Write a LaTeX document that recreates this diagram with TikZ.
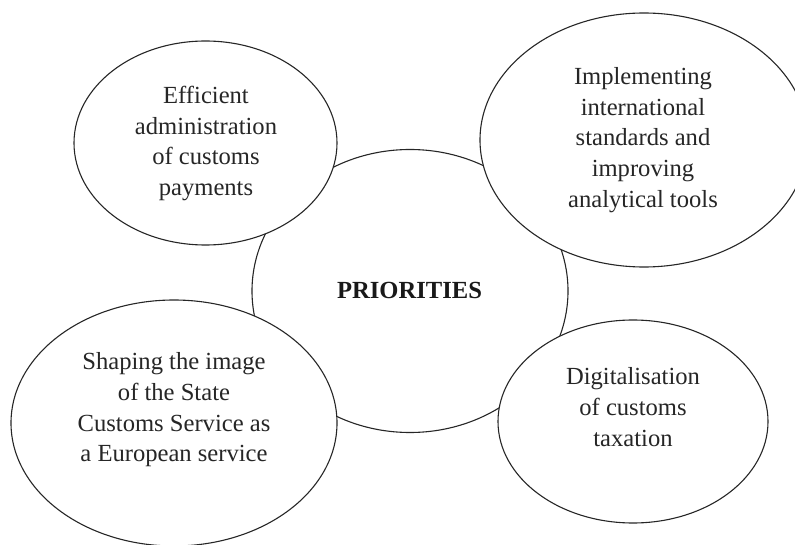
\documentclass[tikz,border=0pt]{standalone}
\usepackage{fontspec}
\setmainfont{Liberation Serif}
\usetikzlibrary{shapes.geometric}
\begin{document}
\begin{tikzpicture}[x=1pt,y=-1pt,
  oval/.style={draw=black!85,line width=1.1pt,ellipse,inner sep=0pt,fill=white},
  lbl/.style={align=center,font=\fontsize{24.6pt}{30.7pt}\selectfont,text=black!85,inner sep=0pt},
  hub/.style={font=\fontsize{24.6pt}{30.7pt}\selectfont\bfseries,text=black!90,inner sep=0pt}]
\useasboundingbox (0,0) rectangle (795,545);
% central ellipse
\node[oval,minimum width=316pt,minimum height=283pt] (c) at (410,291) {};
% outer ellipses
\node[oval,minimum width=263pt,minimum height=204pt] (tl) at (205.5,143) {};
\node[oval,minimum width=328pt,minimum height=254pt] (tr) at (644,140) {};
\node[oval,minimum width=326pt,minimum height=246pt] (bl) at (174,423) {};
\node[oval,minimum width=270pt,minimum height=203pt] (br) at (633,421.5) {};
% texts
\node[hub] (tc) at (409.5,290) {PRIORITIES};
\node[lbl] (ttl) at (206,143.5) {Efficient\\administration\\of customs\\payments};
\node[lbl] (ttr) at (643,140) {Implementing\\international\\standards and\\improving\\analytical tools};
\node[lbl] (tbl) at (174,410) {Shaping the image\\of the State\\Customs Service as\\a European service};
\node[lbl] (tbr) at (633,407) {Digitalisation\\of customs\\taxation};
\end{tikzpicture}
\end{document}
